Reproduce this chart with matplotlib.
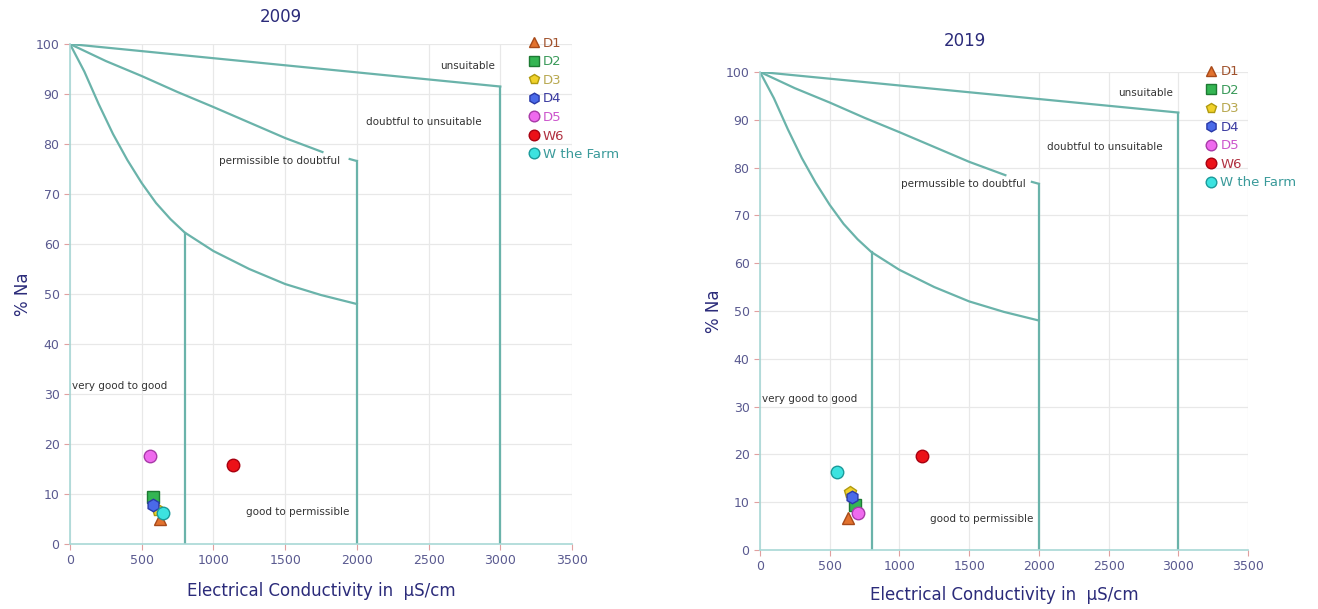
import matplotlib.pyplot as plt

# Wilcox diagram boundaries (EC in uS/cm, % Na)
top_ec = [0, 3000]
top_na = [100, 91.5]
mid_ec = [0, 250, 500, 750, 1000, 1250, 1500, 1760]
mid_na = [100, 96.6, 93.6, 90.4, 87.4, 84.3, 81.2, 78.4]
mid_end_ec = [1950, 2000]
mid_end_na = [77.0, 76.6]
low_ec = [0, 100, 200, 300, 400, 500, 600, 700, 800, 1000, 1250, 1500, 1750, 2000]
low_na = [100, 94.5, 88.0, 82.0, 76.8, 72.2, 68.2, 65.0, 62.3, 58.6, 55.0, 52.0, 49.8, 48.0]
vert_ec = [800, 2000, 3000]
vert_top = [62.3, 76.6, 91.5]

series = ['D1', 'D2', 'D3', 'D4', 'D5', 'W6', 'W the Farm']
ec_2009 = [627, 578, 613, 578, 557, 1136, 648]
na_2009 = [5.0, 9.4, 6.8, 7.8, 17.6, 15.8, 6.2]
ec_2019 = [632, 682, 646, 660, 704, 1165, 553]
na_2019 = [6.7, 9.4, 12.1, 11.1, 7.7, 19.7, 16.3]

markers = ['^', 's', 'p', 'h', 'o', 'o', 'o']
fills = ['#e2722e', '#34b553', '#f0d12a', '#4a6ae8', '#ef6aee', '#ec1118', '#3ce3e0']
edges = ['#a84a1a', '#1d7a33', '#b09a10', '#2a3aa8', '#a83aa8', '#a80010', '#1a9a9a']
text_cols = ['#a0522d', '#3a9a5a', '#b8a850', '#3a3aa0', '#cc55cc', '#b03040', '#3a9a9a']

line_c = '#6ab3aa'
navy = '#2b2b7a'
tick_c = '#5a5a90'

fig = plt.figure(figsize=(13.18, 6.09), dpi=100)


def draw(ax, ec, na, title, title_y, doubt_txt):
    ax.set_xlim(0, 3500)
    ax.set_ylim(0, 100)
    ax.set_xticks(range(0, 3501, 500))
    ax.set_yticks(range(0, 101, 10))
    ax.grid(True, color='#e8e8e8', lw=0.9)
    ax.set_axisbelow(True)
    for s in ['top', 'right']:
        ax.spines[s].set_visible(False)
    for s in ['left', 'bottom']:
        ax.spines[s].set_color('#a8d8d6')
        ax.spines[s].set_linewidth(1.2)
    ax.tick_params(colors='#e0a0a0', labelcolor=tick_c, labelsize=9, length=4)

    ax.plot(top_ec, top_na, color=line_c, lw=1.6)
    ax.plot(mid_ec, mid_na, color=line_c, lw=1.6)
    ax.plot(mid_end_ec, mid_end_na, color=line_c, lw=1.6)
    ax.plot(low_ec, low_na, color=line_c, lw=1.6)
    for x, t in zip(vert_ec, vert_top):
        ax.plot([x, x], [0, t], color=line_c, lw=1.6)

    kw = dict(fontsize=7.5, color='#333333')
    ax.text(2960, 95.6, 'unsuitable', ha='right', va='center', **kw)
    ax.text(2470, 84.4, 'doubtful to unsuitable', ha='center', va='center', **kw)
    ax.text(1460, 76.6, doubt_txt, ha='center', va='center', **kw)
    ax.text(15, 31.6, 'very good to good', ha='left', va='center', **kw)
    ax.text(1590, 6.4, 'good to permissible', ha='center', va='center', **kw)

    for i, name in enumerate(series):
        ax.plot(ec[i], na[i], marker=markers[i], ms=9, mfc=fills[i], mec=edges[i],
                mew=1, ls='', label=name, zorder=5)

    leg = ax.legend(loc='upper left', bbox_to_anchor=(0.9, 1.025), frameon=False,
                    fontsize=9.5, handletextpad=0.2, labelspacing=0.42,
                    borderaxespad=0, handlelength=1.0, markerscale=0.85)
    for t, c in zip(leg.get_texts(), text_cols):
        t.set_color(c)

    ax.set_xlabel('Electrical Conductivity in  µS/cm', fontsize=12, color=navy)
    ax.set_ylabel('% Na', fontsize=12, color=navy)
    ax.yaxis.set_label_coords(-0.075, 0.5)
    ax.xaxis.set_label_coords(0.5, -0.075)
    ax.text(0.42, title_y, title, transform=ax.transAxes, ha='center',
            fontsize=12, color=navy)


ax1 = fig.add_axes([0.0531, 0.1067, 0.3809, 0.821])
draw(ax1, ec_2009, na_2009, '2009', 1.045, 'permissible to doubtful')
ax2 = fig.add_axes([0.5766, 0.0969, 0.3703, 0.785])
draw(ax2, ec_2019, na_2019, '2019', 1.055, 'permussible to doubtful')

fig.savefig('out.png', dpi=100)
